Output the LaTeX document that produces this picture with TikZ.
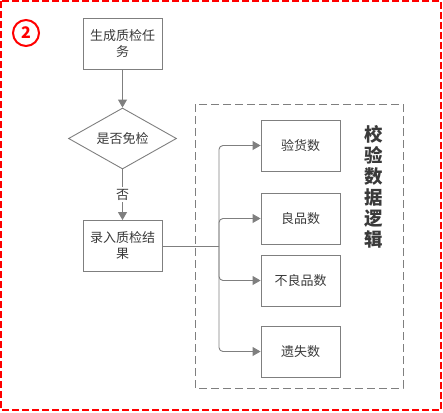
\documentclass[tikz,border=0pt]{standalone}
\usepackage{fontspec}
\newfontfamily\cjk{Noto Sans CJK SC}
\usetikzlibrary{arrows.meta,shapes.geometric}
\definecolor{linegray}{HTML}{7F7F7F}
\definecolor{textgray}{HTML}{3A3A3A}

\begin{document}
\begin{tikzpicture}[x=1pt,y=-1pt,
    box/.style={draw=linegray, line width=0.9pt, minimum width=79pt, minimum height=51pt,
        inner sep=2pt, align=center, text=textgray, font=\cjk\fontsize{13}{16}\selectfont},
    decision/.style={diamond, draw=linegray, line width=0.9pt, aspect=1.8, inner sep=0pt,
        minimum width=108pt, minimum height=61pt, text=textgray, font=\cjk\fontsize{13}{16}\selectfont},
    flow/.style={draw=linegray, line width=0.9pt, -{Triangle[width=9pt,length=8pt]}}]
    \useasboundingbox (0,0) rectangle (443,412);

    % Outer frame and number
    \draw[red, line width=1.3pt, dash pattern=on 7pt off 3pt] (1,1) rectangle (441,410);
    \node[circle, draw=red, line width=2pt, minimum size=26pt, inner sep=0pt, text=red,
        font=\cjk\bfseries\fontsize{16}{16}\selectfont] (num) at (26,33) {2};

    % Check group
    \draw[linegray, line width=1pt, dash pattern=on 8pt off 4pt] (195,104) rectangle (403,388);
    \node[text=textgray, align=center, font=\cjk\bfseries\fontsize{18.5}{21}\selectfont]
        (title) at (374,187) {校\\验\\数\\据\\逻\\辑};

    % Nodes
    \node[box] (task) at (122.5,43.5) {生成质检任\\务};
    \node[decision] (exempt) at (122.5,138.5) {是否免检};
    \node[box] (record) at (122.5,246) {录入质检结\\果};

    \node[box] (check) at (300.5,145.5) {验货数};
    \node[box] (good) at (300.5,218.5) {良品数};
    \node[box] (bad) at (300.5,280.5) {不良品数};
    \node[box] (lost) at (300.5,351.5) {遗失数};

    % Edges
    \draw[flow] (task) -- (exempt);
    \draw[flow] (exempt) -- node[fill=white, text=textgray, inner sep=2pt,
        font=\cjk\fontsize{13}{16}\selectfont] {否} (record);

    \coordinate (split) at (219,246);
    \draw[draw=linegray, line width=0.9pt] (record.east) -- (split);
    \foreach \target in {check,good,bad,lost}
        \draw[flow, rounded corners=4pt] (split) |- (\target.west);
\end{tikzpicture}
\end{document}
